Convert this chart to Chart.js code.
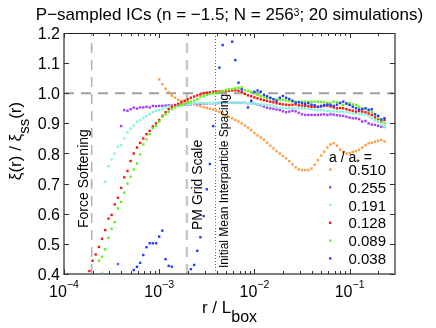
<!DOCTYPE html>
<html>
<head>
<meta charset="utf-8">
<script src="https://cdn.jsdelivr.net/npm/chart.js@4.4.1/dist/chart.umd.min.js"></script>
<style>
  body { margin: 0; background: #fff; }
  canvas { display: block; }
</style>
</head>
<body>
<canvas id="grafica" width="436" height="328"></canvas>
<script>
// log10(r / Lbox) at the centre of each bin
let logR = [
  -3.733, -3.700, -3.667, -3.633, -3.600, -3.567, -3.533, -3.500, -3.467, -3.433,
  -3.400, -3.367, -3.333, -3.300, -3.267, -3.233, -3.200, -3.167, -3.133, -3.100,
  -3.067, -3.033, -3.000, -2.967, -2.933, -2.900, -2.867, -2.833, -2.800, -2.767,
  -2.733, -2.700, -2.667, -2.633, -2.600, -2.567, -2.533, -2.500, -2.467, -2.433,
  -2.400, -2.367, -2.333, -2.300, -2.267, -2.233, -2.200, -2.167, -2.133, -2.100,
  -2.067, -2.033, -2.000, -1.967, -1.933, -1.900, -1.867, -1.833, -1.800, -1.767,
  -1.733, -1.700, -1.667, -1.633, -1.600, -1.567, -1.533, -1.500, -1.467, -1.433,
  -1.400, -1.367, -1.333, -1.300, -1.267, -1.233, -1.200, -1.167, -1.133, -1.100,
  -1.067, -1.033, -1.000, -0.967, -0.933, -0.900, -0.867, -0.833, -0.800, -0.767,
  -0.733, -0.700, -0.667, -0.633
];

// xi(r) / xi_ss(r), one list per expansion factor (null = no point)
let serie510 = [
  null, null, null, null, null, null, null, null, null, null,
  null, null, null, null, null, null, null, null, null, null,
  null, null, 1.046, 1.030, 1.015, 1.003, 0.992, 0.985, 0.978, 0.975,
  0.972, 0.970, 0.968, 0.965, 0.960, 0.957, 0.954, 0.951, 0.949, 0.946,
  0.942, 0.938, 0.933, 0.928, 0.922, 0.917, 0.911, 0.906, 0.900, 0.893,
  0.886, 0.878, 0.868, 0.860, 0.853, 0.846, 0.836, 0.826, 0.817, 0.808,
  0.800, 0.792, 0.784, 0.775, 0.764, 0.754, 0.747, 0.745, 0.745, 0.745,
  0.750, 0.763, 0.778, 0.793, 0.806, 0.820, 0.830, 0.834, 0.826, 0.813,
  0.805, 0.800, 0.801, 0.805, 0.808, 0.812, 0.820, 0.828, 0.834, 0.836,
  0.839, 0.842, 0.845, 0.840
];
let serie255 = [
  null, null, null, null, null, null, null, null, null, 0.433,
  0.891, 0.944, 0.942, 0.947, 0.952, 0.949, 0.953, 0.953, 0.955, 0.953,
  0.958, 0.957, 0.958, 0.958, 0.959, 0.960, 0.960, 0.961, 0.961, 0.962,
  0.962, 0.963, 0.963, 0.964, 0.964, 0.965, 0.966, 0.966, 0.967, 0.967,
  0.967, 0.968, 0.968, 0.968, 0.968, 0.969, 0.968, 0.968, 0.968, 0.968,
  0.967, 0.967, 0.965, 0.963, 0.960, 0.956, 0.952, 0.950, 0.948, 0.946,
  0.944, 0.940, 0.937, 0.939, 0.942, 0.940, 0.935, 0.930, 0.928, 0.928,
  0.928, 0.928, 0.928, 0.929, 0.930, 0.928, 0.930, 0.929, 0.927, 0.926,
  0.925, 0.922, 0.919, 0.917, 0.917, 0.914, 0.906, 0.908, 0.900, 0.896,
  0.895, 0.892, 0.889, 0.888
];
let serie191 = [
  null, null, null, null, 0.404, 0.706, 0.758, 0.780, 0.800, 0.822,
  0.828, 0.850, 0.870, 0.882, 0.893, 0.906, 0.911, 0.918, 0.924, 0.930,
  0.937, 0.942, 0.945, 0.948, 0.953, 0.956, 0.958, 0.960, 0.961, 0.962,
  0.963, 0.964, 0.965, 0.966, 0.966, 0.967, 0.967, 0.967, 0.968, 0.968,
  0.968, 0.968, 0.968, 0.969, 0.969, 0.969, 0.968, 0.968, 0.968, 0.968,
  0.967, 0.966, 0.965, 0.964, 0.963, 0.962, 0.961, 0.960, 0.958, 0.955,
  0.952, 0.950, 0.950, 0.950, 0.950, 0.950, 0.950, 0.950, 0.950, 0.949,
  0.947, 0.945, 0.944, 0.944, 0.943, 0.941, 0.939, 0.940, 0.940, 0.939,
  0.939, 0.937, 0.935, 0.933, 0.933, 0.932, 0.930, 0.928, 0.924, 0.917,
  0.910, 0.904, 0.895, 0.889
];
let serie128 = [
  0.410, 0.444, 0.465, 0.490, 0.517, 0.546, 0.584, 0.596, 0.631, 0.653,
  0.686, 0.721, 0.742, 0.775, 0.800, 0.820, 0.835, 0.850, 0.864, 0.875,
  0.890, 0.900, 0.911, 0.925, 0.937, 0.947, 0.955, 0.960, 0.965, 0.970,
  0.975, 0.980, 0.985, 0.989, 0.993, 0.996, 1.000, 1.002, 1.003, 1.005,
  1.005, 1.006, 1.007, 1.007, 1.008, 1.009, 1.010, 1.008, 1.005, 0.998,
  0.993, 0.990, 0.986, 0.983, 0.980, 0.977, 0.975, 0.972, 0.970, 0.967,
  0.965, 0.963, 0.962, 0.961, 0.962, 0.963, 0.960, 0.959, 0.958, 0.957,
  0.955, 0.955, 0.955, 0.956, 0.958, 0.959, 0.956, 0.953, 0.950, 0.951,
  0.950, 0.947, 0.944, 0.942, 0.939, 0.941, 0.939, 0.937, 0.933, 0.928,
  0.920, 0.914, 0.906, 0.911
];
let serie089 = [
  null, null, null, 0.444, 0.457, 0.482, 0.520, 0.550, 0.572, 0.618,
  0.639, 0.670, 0.700, 0.723, 0.747, 0.767, 0.797, 0.830, 0.847, 0.864,
  0.884, 0.891, 0.906, 0.922, 0.930, 0.938, 0.947, 0.953, 0.958, 0.960,
  0.964, 0.968, 0.972, 0.976, 0.980, 0.987, 0.990, 0.994, 0.997, 0.999,
  1.000, 1.003, 1.007, 1.011, 1.013, 1.014, 1.016, 1.018, 1.020, 1.010,
  1.008, 1.005, 1.000, 0.995, 0.990, 0.987, 0.984, 0.983, 0.981, 0.979,
  0.978, 0.978, 0.976, 0.974, 0.973, 0.972, 0.972, 0.972, 0.972, 0.972,
  0.972, 0.972, 0.972, 0.971, 0.970, 0.968, 0.967, 0.972, 0.970, 0.967,
  0.961, 0.965, 0.967, 0.963, 0.961, 0.955, 0.950, 0.948, 0.942, 0.937,
  0.930, 0.918, 0.906, 0.900
];
let serie038 = [
  null, null, null, null, null, null, null, null, null, null,
  null, null, null, null, 0.413, 0.424, 0.437, 0.463, 0.489, 0.502,
  0.502, 0.502, 0.524, 0.544, 0.449, 0.427, 0.424, null, null, null,
  null, 0.400, 0.416, 0.430, 0.477, 0.522, 0.592, 0.681, 0.765, 0.891,
  null, 1.085, 1.160, 1.199, null, 1.171, 1.110, 1.035, 1.013, null,
  0.953, 0.975, 1.005, 1.009, 1.005, 0.995, 0.990, 0.985, 0.980, 0.975,
  0.985, 0.991, 0.985, 0.981, 0.975, 0.969, 0.970, 0.968, 0.965, 0.967,
  0.962, 0.960, 0.955, 0.958, 0.960, 0.962, 0.961, 0.958, 0.962, 0.968,
  0.972, 0.966, 0.961, 0.955, 0.950, 0.946, 0.947, 0.950, 0.945, 0.947,
  0.930, 0.925, 0.913, 0.917
];

let etiquetas = ['0.510', '0.255', '0.191', '0.128', '0.089', '0.038'];
let series = [serie510, serie255, serie191, serie128, serie089, serie038];
let colores = ['#ff9c40', '#a93cff', '#7ff7dc', '#ff1414', '#5cf51a', '#1f3dff'];

let yTicks = [0.4, 0.5, 0.6, 0.7, 0.8, 0.9, 1.0, 1.1, 1.2];
let yTickLabels = ['0.4', '0.5', '0.6', '0.7', '0.8', '0.9', '1.0', '1.1', '1.2'];
let xDecadas = [1e-4, 1e-3, 1e-2, 1e-1];
let xExponentes = ['\u22124', '\u22123', '\u22122', '\u22121'];

// force softening, PM grid scale, initial mean interparticle spacing
let rEscalas = [1.953e-4, 1.953e-3, 3.906e-3];

const FUENTE = '"Liberation Sans", Arial, Helvetica, sans-serif';

function puntos(valores) {
    let datos = [];
    valores.forEach((v, i) => {
        if (v !== null) datos.push({ x: Math.pow(10, logR[i]), y: v });
    });
    return datos;
}

function linea(x0, y0, x1, y1, color, ancho, dash) {
    return {
        type: 'line',
        data: [{ x: x0, y: y0 }, { x: x1, y: y1 }],
        borderColor: color,
        borderWidth: ancho,
        borderDash: dash,
        pointRadius: 0,
        fill: false,
        order: 20
    };
}

// draw a run of text pieces (for sub/superscripts)
function textoRico(ctx, partes, x, y, align) {
    let total = 0;
    partes.forEach(p => {
        ctx.font = p.size + 'px ' + FUENTE;
        p.w = ctx.measureText(p.t).width;
        total += p.w;
    });
    let cx = x;
    if (align === 'center') cx = x - total / 2;
    else if (align === 'right') cx = x - total;
    partes.forEach(p => {
        ctx.font = p.size + 'px ' + FUENTE;
        ctx.fillText(p.t, cx, y + (p.dy || 0));
        cx += p.w;
    });
}

function textoVertical(ctx, partes, x, y, align) {
    ctx.save();
    ctx.translate(x, y);
    ctx.rotate(-Math.PI / 2);
    textoRico(ctx, partes, 0, 0, align);
    ctx.restore();
}

let marcoPlugin = {
    id: 'marco',
    afterDatasetsDraw(chart) {
        let ctx = chart.ctx;
        let a = chart.chartArea;
        let sx = chart.scales.x;
        let sy = chart.scales.y;
        ctx.save();

        // box
        ctx.strokeStyle = '#7f7f7f';
        ctx.lineWidth = 2;
        ctx.beginPath();
        ctx.moveTo(a.left, a.top);
        ctx.lineTo(a.left, a.bottom);
        ctx.lineTo(a.right, a.bottom);
        ctx.lineTo(a.right, a.top);
        ctx.stroke();
        ctx.strokeStyle = '#202020';
        ctx.lineWidth = 1;
        ctx.beginPath();
        ctx.moveTo(a.left, a.top + 0.5);
        ctx.lineTo(a.right, a.top + 0.5);
        ctx.stroke();

        // ticks
        ctx.strokeStyle = '#303030';
        ctx.lineWidth = 1;
        ctx.beginPath();
        yTicks.forEach(v => {
            let py = Math.round(sy.getPixelForValue(v)) + 0.5;
            ctx.moveTo(a.left, py); ctx.lineTo(a.left + 5, py);
            ctx.moveTo(a.right, py); ctx.lineTo(a.right - 5, py);
        });
        xDecadas.forEach(d => {
            for (let m = 1; m <= 9; m++) {
                let v = d * m;
                if (v > sx.max) break;
                let px = Math.round(sx.getPixelForValue(v)) + 0.5;
                let largo = m === 1 ? 5 : 3;
                ctx.moveTo(px, a.bottom); ctx.lineTo(px, a.bottom - largo);
                ctx.moveTo(px, a.top); ctx.lineTo(px, a.top + largo);
            }
        });
        ctx.stroke();

        ctx.fillStyle = '#000';
        ctx.textBaseline = 'alphabetic';
        ctx.textAlign = 'left';

        // y tick labels
        yTicks.forEach((v, i) => {
            textoRico(ctx, [{ t: yTickLabels[i], size: 16 }], a.left - 4, sy.getPixelForValue(v) + 6, 'right');
        });

        // x tick labels 10^n
        xDecadas.forEach((d, i) => {
            textoRico(ctx, [
                { t: '10', size: 16 },
                { t: xExponentes[i], size: 10.5, dy: -9 }
            ], sx.getPixelForValue(d), 297, 'center');
        });

        // title
        textoRico(ctx, [
            { t: 'P\u2212sampled ICs (n = \u22121.5; N = 256', size: 17 },
            { t: '3', size: 10, dy: -4 },
            { t: '; 20 simulations)', size: 17 }
        ], (a.left + a.right) / 2, 20, 'center');

        // axis titles
        textoRico(ctx, [
            { t: 'r / L', size: 17 },
            { t: 'box', size: 16, dy: 9 }
        ], (a.left + a.right) / 2, 313, 'center');
        textoVertical(ctx, [
            { t: '\u03BE(r) / \u03BE', size: 17 },
            { t: 'ss', size: 15, dy: 8 },
            { t: '(r)', size: 17 }
        ], 21, 141, 'center');

        // scale annotations
        textoVertical(ctx, [{ t: 'Force Softening', size: 14 }], 88, 228, 'left');
        textoVertical(ctx, [{ t: 'PM Grid Scale', size: 14 }], 201.5, 230, 'left');
        textoVertical(ctx, [{ t: 'Initial Mean Interparticle Spacing', size: 12 }], 228, 268, 'left');

        // legend
        textoRico(ctx, [
            { t: 'a / a', size: 14 },
            { t: '*', size: 9, dy: 3 },
            { t: ' =', size: 14 }
        ], 329, 162, 'left');
        let filas = [169.5, 187.3, 205, 222.8, 240.6, 258.4];
        etiquetas.forEach((et, i) => {
            ctx.fillStyle = colores[i];
            ctx.fillRect(329, filas[i] - 1.2, 2.4, 2.4);
            ctx.fillStyle = '#000';
            textoRico(ctx, [{ t: et, size: 15 }], 386, filas[i] + 5.5, 'right');
        });

        ctx.restore();
    }
};

document.addEventListener('DOMContentLoaded', function() {
    let datasets = [];

    // reference lines
    datasets.push(linea(1e-4, 1.0, 0.3, 1.0, '#a0a0a0', 2, [10, 7]));
    datasets.push(linea(rEscalas[0], 0.4, rEscalas[0], 1.2, '#b0b0b0', 1.5, [10, 7]));
    datasets.push(linea(rEscalas[1], 0.4, rEscalas[1], 1.2, '#c8c8c8', 2.5, [10, 7]));
    datasets.push(linea(rEscalas[2], 0.4, rEscalas[2], 1.2, '#606060', 1, [1, 2]));

    series.forEach((s, i) => {
        datasets.push({
            label: etiquetas[i],
            data: puntos(s),
            showLine: false,
            pointStyle: 'rect',
            pointRadius: 1.7,
            pointBorderWidth: 0,
            backgroundColor: colores[i],
            borderColor: colores[i],
            clip: 0,
            order: 6 - i
        });
    });

    let ctx = document.getElementById('grafica').getContext('2d');
    new Chart(ctx, {
        type: 'scatter',
        data: { datasets: datasets },
        options: {
            responsive: false,
            animation: false,
            layout: { padding: { left: 0, right: 41, top: 33, bottom: 0 } },
            plugins: {
                legend: { display: false },
                tooltip: { enabled: false },
                title: { display: false }
            },
            scales: {
                x: {
                    type: 'logarithmic',
                    min: 1e-4,
                    max: 0.3,
                    ticks: { display: false },
                    grid: { display: false },
                    border: { display: false },
                    afterFit: s => { s.height = 54; }
                },
                y: {
                    min: 0.4,
                    max: 1.2,
                    ticks: { display: false },
                    grid: { display: false },
                    border: { display: false },
                    afterFit: s => { s.width = 64; }
                }
            }
        },
        plugins: [marcoPlugin]
    });
});
</script>
</body>
</html>
